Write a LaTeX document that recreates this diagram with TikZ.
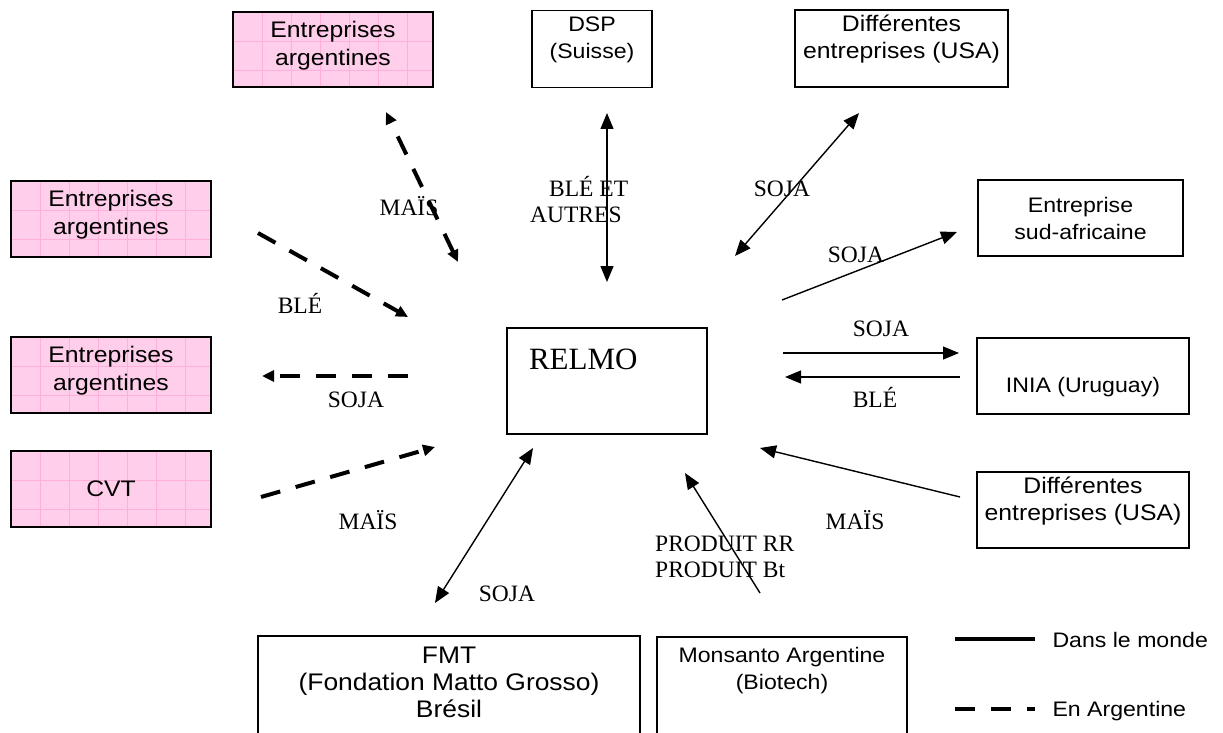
\documentclass[tikz,border=0pt]{standalone}
\usepackage{fontspec}
\setmainfont{Liberation Serif}
\setsansfont{Liberation Sans}[FakeStretch=1.1]
\usetikzlibrary{arrows.meta}
\definecolor{pinkfill}{RGB}{255,206,234}
\definecolor{pinkgrid}{RGB}{255,176,218}

\begin{document}
\begin{tikzpicture}[
    x=1pt, y=-1pt,
    >={Triangle[length=16pt,width=13pt]},
    box/.style={
        draw,
        line width=1.5pt,
        align=center,
        inner sep=3pt,
        font=\sffamily\fontsize{21}{27}\selectfont
    },
    pinkbox/.style={
        box,
        fill=pinkfill,
        font=\sffamily\fontsize{22.5}{28}\selectfont,
        path picture={
            \foreach \i in {1,...,6}
                \draw[pinkgrid, line width=0.8pt]
                    ([xshift=\i*29pt]path picture bounding box.north west) --
                    ([xshift=\i*29pt]path picture bounding box.south west);
            \foreach \j in {1,2}
                \draw[pinkgrid, line width=0.8pt]
                    ([yshift=-\j*29pt]path picture bounding box.north west) --
                    ([yshift=-\j*29pt]path picture bounding box.north east);
        }
    },
    tdepth/.style={text depth=#1},
    openbox/.style={box, anchor=north, inner ysep=11pt, text depth=90pt},
    lbl/.style={font=\fontsize{23.5}{26}\selectfont, inner sep=0pt},
    world/.style={line width=1.4pt},
    arg/.style={line width=4pt, dash pattern=on 20pt off 16pt,
        >={Triangle[length=12pt,width=11pt]}}
]
    \useasboundingbox (0,0) rectangle (1223,733);
    \clip (0,0) rectangle (1223,733);

    % boxes
    \node[pinkbox, minimum width=200pt, minimum height=75pt, tdepth=13pt] (argtop) at (333,49.5) {Entreprises\\argentines};
    \node[box, minimum width=120pt, minimum height=77pt, tdepth=23pt] (dsp) at (592,49) {DSP\\(Suisse)};
    \node[box, minimum width=213pt, minimum height=77pt, tdepth=23pt,
        font=\sffamily\fontsize{22.5}{27}\selectfont] (usatop) at (901.5,48.5) {Différentes\\entreprises (USA)};
    \node[pinkbox, minimum width=200pt, minimum height=76pt, tdepth=13pt] (argble) at (111,219) {Entreprises\\argentines};
    \node[box, minimum width=205pt, minimum height=76pt] (sud) at (1080.5,218) {Entreprise\\sud-africaine};
    \node[pinkbox, minimum width=200pt, minimum height=76pt, tdepth=13pt] (argsoja) at (111,375) {Entreprises\\argentines};
    \node[box, minimum width=200pt, minimum height=106pt, text width=156pt, align=left,
        inner xsep=22pt, text height=20pt, text depth=44pt,
        font=\fontsize{31}{34}\selectfont] (relmo) at (607,381) {RELMO};
    \node[box, minimum width=212pt, minimum height=76pt, text height=38pt, text depth=6pt] (inia) at (1083,376) {INIA (Uruguay)};
    \node[pinkbox, minimum width=200pt, minimum height=76pt] (cvt) at (111,489) {CVT};
    \node[box, minimum width=212pt, minimum height=76pt, tdepth=23pt,
        font=\sffamily\fontsize{22.5}{27}\selectfont] (usaright) at (1083,510) {Différentes\\entreprises (USA)};
    \node[openbox, minimum width=382pt, font=\sffamily\fontsize{24}{27}\selectfont] (fmt) at (449,635) {FMT\\(Fondation Matto Grosso)\\Brésil};
    \node[openbox, minimum width=250pt] (monsanto) at (782,636) {Monsanto Argentine\\(Biotech)};

    % arrow ends
    \coordinate (maisA) at (458,262);
    \coordinate (maisB) at (386,112);
    \coordinate (bleA) at (607,282);
    \coordinate (bleB) at (607,113);
    \coordinate (sojaA) at (735,256);
    \coordinate (sojaB) at (859,113);
    \coordinate (sudA) at (782,300);
    \coordinate (sudB) at (957,232);
    \coordinate (iniaA) at (783,353);
    \coordinate (iniaB) at (959,353);
    \coordinate (iniaC) at (960,377);
    \coordinate (iniaD) at (785,377);
    \coordinate (usaA) at (960,497);
    \coordinate (usaB) at (760,448);
    \coordinate (prodA) at (760,593);
    \coordinate (prodB) at (685,473);
    \coordinate (fmtA) at (435,603);
    \coordinate (fmtB) at (533,448);
    \coordinate (cvtA) at (261,497);
    \coordinate (cvtB) at (435,447);
    \coordinate (soyA) at (408,376);
    \coordinate (soyB) at (262,376);
    \coordinate (wheatA) at (258,233);
    \coordinate (wheatB) at (408,317);

    % dans le monde
    \draw[world, <->] (bleA) -- (bleB);
    \draw[world, <->] (sojaA) -- (sojaB);
    \draw[world, ->] (sudA) -- (sudB);
    \draw[world, ->] (iniaA) -- (iniaB);
    \draw[world, ->] (iniaC) -- (iniaD);
    \draw[world, ->] (usaA) -- (usaB);
    \draw[world, ->] (prodA) -- (prodB);
    \draw[world, <->] (fmtA) -- (fmtB);

    % en Argentine
    \draw[arg, <->] (maisA) -- (maisB);
    \draw[arg, ->] (cvtA) -- (cvtB);
    \draw[arg, ->] (soyA) -- (soyB);
    \draw[arg, ->] (wheatA) -- (wheatB);

    % labels
    \node[lbl, anchor=base] (lmaistop) at (409,215) {MAÏS};
    \node[lbl, anchor=north west, align=left] (lbleet) at (530,176) {\hspace{19pt}BLÉ ET\\AUTRES};
    \node[lbl, anchor=base] (lsojatop) at (782,196) {SOJA};
    \node[lbl, anchor=base] (lsojasud) at (856,262) {SOJA};
    \node[lbl, anchor=base] (lsojainia) at (881,336) {SOJA};
    \node[lbl, anchor=base] (lbleinia) at (875,407) {BLÉ};
    \node[lbl, anchor=base] (lmaisusa) at (855,529) {MAÏS};
    \node[lbl, anchor=north west, align=left] (lprod) at (655,536) {PRODUIT RR\\PRODUIT Bt};
    \node[lbl, anchor=base] (lsojafmt) at (507,601) {SOJA};
    \node[lbl, anchor=base] (lmaiscvt) at (368,529) {MAÏS};
    \node[lbl, anchor=base] (lsojaleft) at (356,407) {SOJA};
    \node[lbl, anchor=base] (lbleleft) at (300,313) {BLÉ};

    % legend
    \coordinate (legA) at (955,639);
    \coordinate (legB) at (1035,639);
    \coordinate (legC) at (955,709);
    \coordinate (legD) at (1035,709);
    \draw[line width=4.5pt] (legA) -- (legB);
    \draw[line width=4.5pt, dash pattern=on 20pt off 16pt] (legC) -- (legD);
    \node[anchor=west, font=\sffamily\fontsize{21}{25}\selectfont] (lworld) at (1049,640) {Dans le monde};
    \node[anchor=west, font=\sffamily\fontsize{21}{25}\selectfont] (larg) at (1049,711) {En Argentine};
\end{tikzpicture}
\end{document}
